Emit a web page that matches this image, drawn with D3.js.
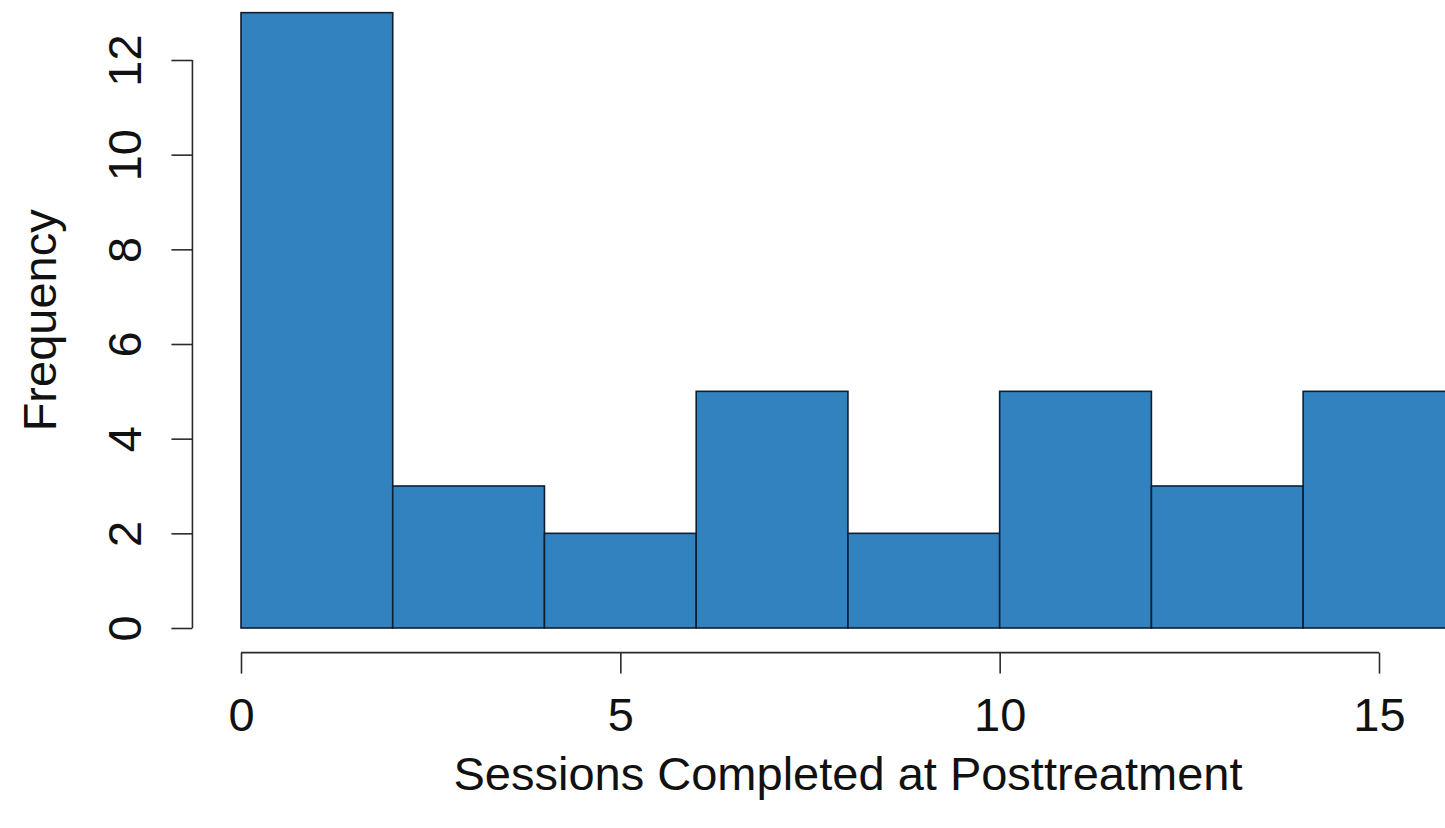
<!DOCTYPE html>
<html>
<head>
<meta charset="utf-8">
<script src="https://cdn.jsdelivr.net/npm/d3@7"></script>
<style>
  html, body { margin: 0; padding: 0; background: #fff; overflow: hidden; }
  svg { display: block; font-family: "Liberation Sans", Arial, Helvetica, sans-serif; }
</style>
</head>
<body>
<div id="container"></div>
<script>
// histogram bins (left edges) and counts
const binStarts = [0, 2, 4, 6, 8, 10, 12, 14];
const binWidth = 2;
const counts = [13, 3, 2, 5, 2, 5, 3, 5];
const xTicks = [0, 5, 10, 15];
const yTicks = [0, 2, 4, 6, 8, 10, 12];
const xLabel = 'Sessions Completed at Posttreatment';
const yLabel = 'Frequency';

const W = 1445, H = 828;
const fontSize = 47;

const svg = d3.select('#container')
    .append('svg')
    .attr('width', W)
    .attr('height', H);

// 0 at x=241, 15 at x=1379
const x = d3.scaleLinear()
    .domain([0, 15])
    .range([241, 1379]);

// 0 at y=628, 12 at y=60
const y = d3.scaleLinear()
    .domain([0, 12])
    .range([628, 60]);

const axisColor = '#2b2b2b';
const axisX0 = x(-0.64);
const axisY0 = y(-0.52);

// bars
svg.append('g')
    .selectAll('rect')
    .data(binStarts.map((b, i) => ({ x0: b, x1: b + binWidth, n: counts[i] })))
    .join('rect')
    .attr('x', d => x(d.x0))
    .attr('y', d => y(d.n))
    .attr('width', d => x(d.x1) - x(d.x0))
    .attr('height', d => y(0) - y(d.n))
    .attr('fill', '#3282bf')
    .attr('stroke', '#0d1f33')
    .attr('stroke-width', 1.6);

// y axis
const yAxis = svg.append('g')
    .attr('transform', `translate(${axisX0}, 0)`)
    .call(d3.axisLeft(y).tickValues(yTicks).tickSize(21).tickSizeOuter(0).tickFormat(d3.format('d')));
yAxis.select('.domain').remove();
yAxis.append('line')
    .attr('x1', 0).attr('x2', 0)
    .attr('y1', y(0)).attr('y2', y(12));
yAxis.selectAll('line')
    .attr('stroke', axisColor)
    .attr('stroke-width', 1.6);
yAxis.selectAll('text')
    .attr('x', null).attr('dy', null)
    .attr('transform', `translate(${141 - axisX0}, 0) rotate(-90)`)
    .attr('text-anchor', 'middle')
    .attr('fill', '#111')
    .style('font-size', fontSize + 'px')
    .style('font-family', '"Liberation Sans", Arial, Helvetica, sans-serif');

// x axis
const xAxis = svg.append('g')
    .attr('transform', `translate(0, ${axisY0})`)
    .call(d3.axisBottom(x).tickValues(xTicks).tickSize(21).tickSizeOuter(0).tickFormat(d3.format('d')));
xAxis.select('.domain').remove();
xAxis.append('line')
    .attr('x1', x(0)).attr('x2', x(15))
    .attr('y1', 0).attr('y2', 0);
xAxis.selectAll('line')
    .attr('stroke', axisColor)
    .attr('stroke-width', 1.6);
xAxis.selectAll('text')
    .attr('y', 731 - axisY0).attr('dy', null)
    .attr('fill', '#111')
    .style('font-size', fontSize + 'px')
    .style('font-family', '"Liberation Sans", Arial, Helvetica, sans-serif');

// axis titles
svg.append('text')
    .attr('x', 848)
    .attr('y', 790)
    .attr('text-anchor', 'middle')
    .attr('fill', '#111')
    .style('font-size', fontSize + 'px')
    .text(xLabel);

svg.append('text')
    .attr('transform', `translate(56, ${y(6.5)}) rotate(-90)`)
    .attr('text-anchor', 'middle')
    .attr('fill', '#111')
    .style('font-size', fontSize + 'px')
    .text(yLabel);
</script>
</body>
</html>
